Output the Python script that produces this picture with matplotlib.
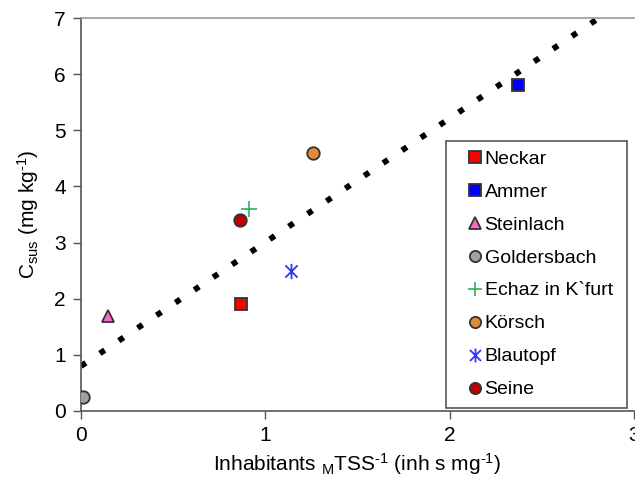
import matplotlib
matplotlib.use("Agg")
import matplotlib.pyplot as plt
from matplotlib.path import Path
from matplotlib.patches import Rectangle
import numpy as np

plt.rcParams['font.family'] = ['Liberation Sans', 'DejaVu Sans']
plt.rcParams['mathtext.fontset'] = 'custom'
plt.rcParams['mathtext.rm'] = 'Liberation Sans'
plt.rcParams['mathtext.it'] = 'Liberation Sans'

names = ["Neckar", "Ammer", "Steinlach", "Goldersbach", "Echaz in K`furt", "Körsch", "Blautopf", "Seine"]
x_vals = [0.87, 2.37, 0.145, 0.01, 0.91, 1.26, 1.14, 0.86]
y_vals = [1.9, 5.8, 1.7, 0.25, 3.6, 4.6, 2.5, 3.4]
markers = ["s", "s", "^", "o", "+", "o", "star", "o"]
face_colors = ["#FF0000", "#0000FF", "#FF66CC", "#A0A0A0", "#2DB35A", "#E08A3C", "#3333FF", "#C00000"]

trend_x = [0.0, 2.81]
trend_y = [0.8, 7.0]

star_path = Path([(0, -1), (0, 1), (-0.8, -0.8), (0.8, 0.8), (-0.8, 0.8), (0.8, -0.8)],
                 [Path.MOVETO, Path.LINETO, Path.MOVETO, Path.LINETO, Path.MOVETO, Path.LINETO])

W, H = 635, 488
fig = plt.figure(figsize=(W/100, H/100), dpi=100)
ax = fig.add_axes([81/W, 1-411/H, (634-81)/W, (411-18)/H])

ax.plot(trend_x, trend_y, color='black', linestyle=(0, (1, 2.9)), linewidth=4.2, zorder=2)

for n, x, y, m, c in zip(names, x_vals, y_vals, markers, face_colors):
    if m == "star":
        ax.plot(x, y, marker=star_path, markersize=11, color=c, markeredgewidth=1.3,
                linestyle='none', label=n, zorder=3)
    elif m == "+":
        ax.plot(x, y, marker="+", markersize=11, color=c, markeredgewidth=1.2,
                linestyle='none', label=n, zorder=3)
    else:
        ax.plot(x, y, marker=m, markersize=9, markerfacecolor=c, markeredgecolor='#333333',
                markeredgewidth=1.3, linestyle='none', label=n, zorder=3)

ax.set_xlim(0, 3)
ax.set_ylim(0, 7)
ax.set_xticks([0, 1, 2, 3])
ax.set_yticks(range(0, 8))
ax.tick_params(axis='both', direction='out', length=6, width=1, labelsize=15,
               labelcolor='black', color='#555555', pad=5)
for s in ['left', 'bottom']:
    ax.spines[s].set_color('#555555')
    ax.spines[s].set_linewidth(1.2)
ax.spines['top'].set_color('#999999')
ax.spines['top'].set_linewidth(1.2)
ax.spines['right'].set_visible(False)

ax.set_xlabel(r'Inhabitants $_{\mathrm{M}}$TSS$^{\text{-}1}$ (inh s mg$^{\text{-}1}$)', fontsize=15, labelpad=4)
ax.set_ylabel(r'C$_{\mathrm{sus}}$ (mg kg$^{\text{-}1}$)', fontsize=15, labelpad=9)

# legend frame
frame = Rectangle((446/W, 1-408/H), (627-446)/W, (408-141)/H, transform=fig.transFigure,
                  facecolor='white', edgecolor='#555555', linewidth=1.2, zorder=4, clip_on=False)
ax.add_patch(frame)
leg = ax.legend(loc='upper left', bbox_to_anchor=(469/W, 1-150/H), bbox_transform=fig.transFigure,
                frameon=False, fontsize=14, handlelength=0.6,
                handletextpad=0.2, labelspacing=0.79, borderpad=0, borderaxespad=0,
                handleheight=0.7, markerscale=0.9)
leg.set_zorder(5)

fig.savefig('out.png', dpi=100)
